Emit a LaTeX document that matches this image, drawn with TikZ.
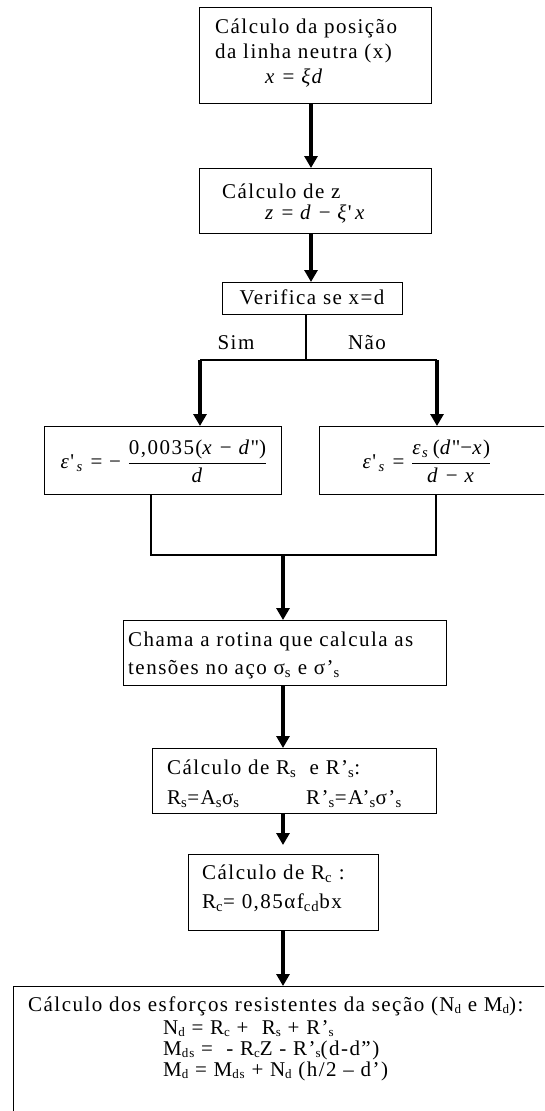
\documentclass[tikz,border=0pt]{standalone}
\usepackage{fontspec}
\setmainfont{Liberation Serif}[LetterSpace=7]
\usetikzlibrary{arrows.meta}
\newcommand\lowsub[1]{\raisebox{-0.1em}{\fontsize{13}{13}\selectfont #1}}
\tikzset{
  box/.style={draw, line width=1.3pt, inner sep=0pt, anchor=north west},
  txt/.style={anchor=base west, inner sep=0pt, font=\fontsize{21}{25}\selectfont},
  txtc/.style={anchor=base, inner sep=0pt, font=\fontsize{21}{25}\selectfont},
  stxt/.style={anchor=base west, inner sep=0pt, font=\fontsize{21}{20}\selectfont},
  conn/.style={line width=1.3pt},
  arr/.style={line width=3.2pt, -{Triangle[length=12pt,width=13pt]}},
}
\begin{document}
\begin{tikzpicture}[x=1pt,y=-1pt]
\useasboundingbox (0,0) rectangle (544,1111);
\clip (0,0) rectangle (544,1111);
% boxes
\node[box, minimum width=232pt, minimum height=96pt] (b1) at (199,7) {};
\node[box, minimum width=232pt, minimum height=65pt] (b2) at (199,168) {};
\node[box, minimum width=180pt, minimum height=32pt] (b3) at (222,282) {};
\node[box, minimum width=237pt, minimum height=68pt] (b4l) at (44,426) {};
\node[box, minimum width=250pt, minimum height=68pt] (b4r) at (319,426) {};
\node[box, minimum width=323pt, minimum height=65pt] (b5) at (123,620) {};
\node[box, minimum width=284pt, minimum height=65pt] (b6) at (152,748) {};
\node[box, minimum width=190pt, minimum height=76pt] (b7) at (188,854) {};
\node[box, minimum width=560pt, minimum height=160pt] (b8) at (13,986) {};
% texts
\node[txt] (t1a) at (215,33) {Cálculo da posição};
\node[txt] (t1b) at (215,58) {da linha neutra (x)};
\node[txt] (t1c) at (265,83) {\textit{x} = \textit{ξd}};
\node[txt] (t2a) at (222,198) {Cálculo de z};
\node[txt] (t2b) at (265,219) {\textit{z} = \textit{d} − \textit{ξ}\textquotesingle\,\textit{x}};
\node[txtc] (t3) at (312,304) {Verifica se x=d};
\node[txtc] (sim) at (236,349) {Sim};
\node[txtc] (nao) at (367,349) {Não};
\node[anchor=center, inner sep=0pt, font=\fontsize{21}{25}\selectfont] (f1) at (164,461)
  {\textit{ε}\textquotesingle\textsubscript{\,\textit{s}} = − $\displaystyle\frac{\mbox{0,0035(\textit{x} − \textit{d}\textquotedbl)}}{\mbox{\textit{d}}}$};
\node[anchor=center, inner sep=0pt, font=\fontsize{21}{25}\selectfont] (f2) at (427,461)
  {\textit{ε}\textquotesingle\textsubscript{\,\textit{s}} = $\displaystyle\frac{\mbox{\textit{ε}\textsubscript{\textit{s}}\,(\textit{d}\textquotedbl−\textit{x})}}{\mbox{\textit{d} − \textit{x}}}$};
\node[txt] (t5a) at (128,646) {Chama a rotina que calcula as};
\node[txt] (t5b) at (128,674) {tensões no aço σ\textsubscript{s} e σ’\textsubscript{s}};
\node[txt] (t6a) at (167,774) {Cálculo de R\textsubscript{s}\ \ e R’\textsubscript{s}:};
\node[txt] (t6b) at (167,804) {R\textsubscript{s}=A\textsubscript{s}σ\textsubscript{s}};
\node[txt] (t6c) at (306,804) {R’\textsubscript{s}=A’\textsubscript{s}σ’\textsubscript{s}};
\node[txt] (t7a) at (202,879) {Cálculo de R\textsubscript{c} :};
\node[txt] (t7b) at (202,908) {R\textsubscript{c}= 0,85αf\textsubscript{cd}bx};
\node[stxt] (t8a) at (28,1011) {Cálculo dos esforços resistentes da seção (N\lowsub{d} e M\lowsub{d}):};
\node[stxt] (t8b) at (163,1034) {N\lowsub{d} = R\lowsub{c} +\ \ R\lowsub{s} + R’\lowsub{s}};
\node[stxt] (t8c) at (163,1055) {M\lowsub{ds} =\ \ - R\lowsub{c}Z - R’\lowsub{s}(d-d”)};
\node[stxt] (t8d) at (163,1076) {M\lowsub{d} = M\lowsub{ds} + N\lowsub{d} (h/2 – d’)};
% junction coordinates
\coordinate (sM) at (306,360);
\coordinate (sL) at (200,360);
\coordinate (sR) at (437,360);
\coordinate (jL) at (151,555);
\coordinate (jR) at (436,555);
\coordinate (jM) at (283,555);
% connectors
\draw[arr] (b1.south -| 311,0) -- (b2.north -| 311,0);
\draw[arr] (b2.south -| 311,0) -- (b3.north -| 311,0);
\draw[conn] (b3.south -| sM) -- (sM);
\draw[conn] (sL) -- (sR);
\draw[arr] (sL) -- (b4l.north -| sL);
\draw[arr] (sR) -- (b4r.north -| sR);
\draw[conn] (b4l.south -| jL) -- (jL) -- (jR) -- (b4r.south -| jR);
\draw[arr] (jM) -- (b5.north -| jM);
\draw[arr] (b5.south -| jM) -- (b6.north -| jM);
\draw[arr, shorten >=9pt] (b6.south -| jM) -- (b7.north -| jM);
\draw[arr] (b7.south -| jM) -- (b8.north -| jM);
\end{tikzpicture}
\end{document}
